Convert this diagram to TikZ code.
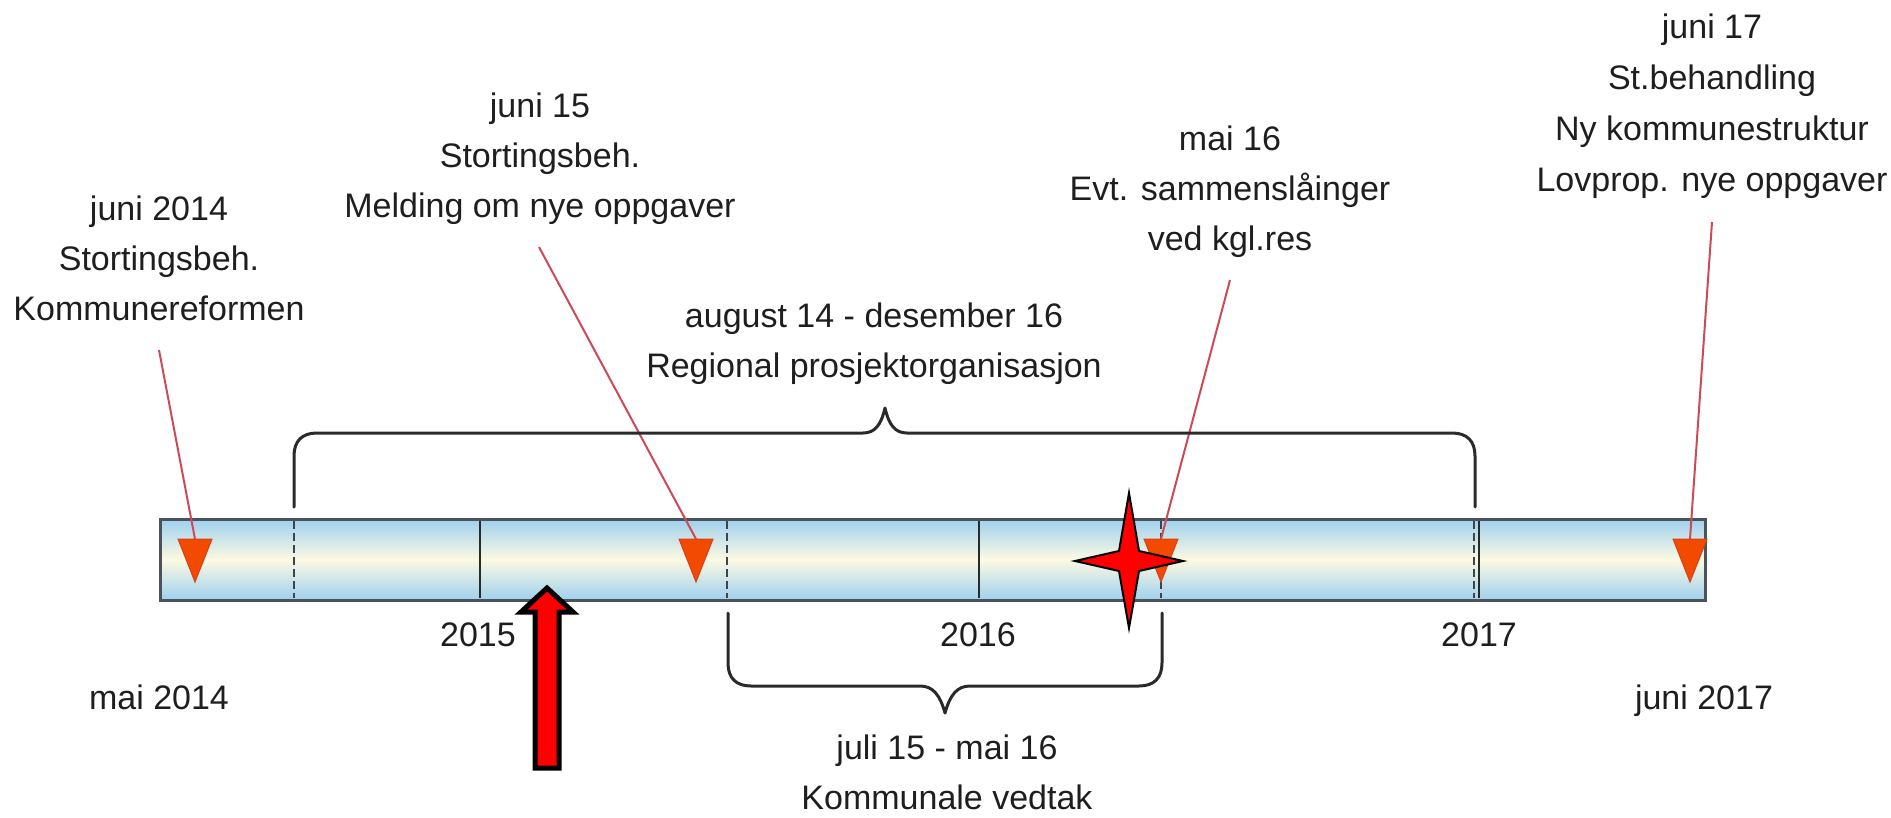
\documentclass[tikz,border=0pt]{standalone}
\usepackage{fontspec}
\setmainfont{Liberation Sans}
\definecolor{barblue}{HTML}{9FD0EE}
\definecolor{barcream}{HTML}{FCFAE2}
\definecolor{barborder}{HTML}{4A535C}
\definecolor{lineg}{HTML}{3C444C}
\definecolor{linered}{HTML}{CC4A55}
\definecolor{markorange}{HTML}{F24A00}
\definecolor{markedge}{HTML}{D8401A}
\definecolor{braceg}{HTML}{2A2A2A}
\definecolor{txt}{HTML}{1E1E1E}
\begin{document}
\begin{tikzpicture}[x=1pt,y=-1pt,
  lbl/.style={font=\fontsize{34}{50}\selectfont, text=txt, align=center, inner sep=0pt},
  redline/.style={draw=linered, line width=2pt},
  marker/.style={fill=markorange, draw=markedge, line width=1pt, line join=miter},
  brace/.style={draw=braceg, line width=3pt, line join=round, line cap=round},
  dline/.style={draw=lineg, line width=2.5pt, dash pattern=on 8pt off 4pt},
  yline/.style={draw=braceg, line width=2pt},
  bigarrow/.style={fill=red, draw=black, line width=5pt, line join=miter},
  starshape/.style={fill=red, draw=black, line width=2pt, line join=miter}]

\useasboundingbox (0,0) rectangle (1891,817);

% timeline bar
\shade[top color=barblue, bottom color=barblue, middle color=barcream] (160,519) rectangle (1705,600);
\foreach \x in {294,727,1161,1474} \draw[dline] (\x,521) -- (\x,598);
\foreach \x in {480,979,1479} \draw[yline] (\x,521) -- (\x,598);
\draw[draw=barborder, line width=3pt] (160,519) rectangle (1705,600);

% year labels
\node[lbl, anchor=base] (y2015) at (478,646) {2015};
\node[lbl, anchor=base] (y2016) at (978,646) {2016};
\node[lbl, anchor=base] (y2017) at (1479,646) {2017};
\node[lbl, anchor=base] (start) at (159,709) {mai 2014};
\node[lbl, anchor=base] (end) at (1704,709) {juni 2017};

% event texts
\node[lbl, anchor=north] (ev1) at (159,196) {juni 2014\\Stortingsbeh.\\Kommunereformen};
\node[lbl, anchor=north] (ev2) at (540,93) {juni 15\\Stortingsbeh.\\Melding om nye oppgaver};
\node[lbl, anchor=north] (ev3) at (1230,126) {mai 16\\Evt. sammensl\r{a}inger\\ved kgl.res};
\node[lbl, anchor=north, font=\fontsize{34}{51}\selectfont] (ev4) at (1712,14) {juni 17\\St.behandling\\Ny kommunestruktur\\Lovprop. nye oppgaver};
\node[lbl, anchor=north] (per1) at (874,303) {august 14 - desember 16\\Regional prosjektorganisasjon};
\node[lbl, anchor=north] (per2) at (947,735) {juli 15 - mai 16\\Kommunale vedtak};

% connector start points
\coordinate (l1) at (159,350);
\coordinate (l2) at (539,247);
\coordinate (l3) at (1230,280);
\coordinate (l4) at (1712,222);

% triangle markers
\foreach \n/\x in {1/195,2/696,3/1161,4/1690}{
  \coordinate (t\n) at (\x,539);
}
\draw[redline] (l1) -- (t1);
\draw[redline] (l2) -- (t2);
\draw[redline] (l3) -- (t3);
\draw[redline] (l4) -- (t4);
\foreach \x in {195,696,1161,1690}{
  \filldraw[marker] (\x-17,539) -- (\x+17,539) -- (\x,582) -- cycle;
}

% upper brace
\draw[brace] (294,507) -- (294,456) .. controls (294,441) and (302,433) .. (317,433)
  -- (863,433) .. controls (875,433) and (881,425) .. (885,408)
  .. controls (889,425) and (895,433) .. (907,433)
  -- (1452,433) .. controls (1467,433) and (1475,441) .. (1475,456) -- (1475,507);

% lower brace
\draw[brace] (728,613) -- (728,663) .. controls (728,678) and (736,686) .. (751,686)
  -- (920,686) .. controls (933,686) and (940,695) .. (945,713)
  .. controls (950,695) and (957,686) .. (970,686)
  -- (1139,686) .. controls (1154,686) and (1162,678) .. (1162,663) -- (1162,613);

% star
\draw[starshape] (1129,493) -- (1139,551) -- (1183,561) -- (1139,571) -- (1129,628)
  -- (1119,571) -- (1075,561) -- (1119,551) -- cycle;

% big red arrow
\draw[bigarrow] (547,588) -- (573,612) -- (559,612) -- (559,768) -- (535,768)
  -- (535,612) -- (521,612) -- cycle;
\end{tikzpicture}
\end{document}
